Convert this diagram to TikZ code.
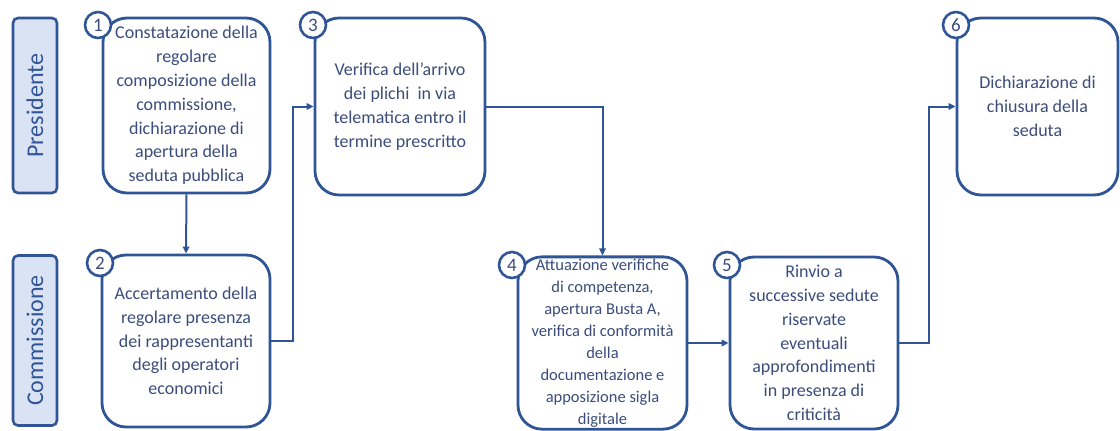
\documentclass[tikz,border=0pt]{standalone}
\usepackage{fontspec}
\setmainfont{Carlito}
\usetikzlibrary{arrows.meta}
\definecolor{laneblue}{HTML}{2F5597}
\definecolor{lanefill}{HTML}{DAE3F3}
\definecolor{steptext}{HTML}{3C4D7C}
\tikzset{>/.tip={Triangle[length=7pt,width=6.5pt]}}

\begin{document}
\begin{tikzpicture}[x=1pt,y=-1pt,
  lane/.style={draw=laneblue,fill=lanefill,line width=2.6pt,rounded corners=5pt,
    minimum width=44pt,text=laneblue,font=\fontsize{24}{26}\selectfont},
  stepbox/.style={draw=laneblue,fill=white,line width=2.8pt,rounded corners=24pt,
    align=center,inner sep=2pt,text=steptext,font=\fontsize{18}{23.8}\selectfont},
  stepnum/.style={circle,draw=laneblue,fill=white,line width=2.6pt,minimum size=26pt,
    inner sep=0pt,text=steptext,font=\fontsize{19}{20}\selectfont},
  flow/.style={draw=laneblue,line width=2pt,->}]
\useasboundingbox (0,0) rectangle (1120,431);

% swim lanes
\node[lane,minimum height=175pt] (pres) at (35,105.5) {\rotatebox{90}{Presidente}};
\node[lane,minimum height=170pt] (comm) at (35,340.5) {\rotatebox{90}{Commissione}};

% steps
\node[stepbox,minimum width=167pt,minimum height=175pt] (b1) at (186.5,105.5)
  {Constatazione della\\regolare\\composizione della\\commissione,\\dichiarazione di\\apertura della\\seduta pubblica};
\node[stepbox,minimum width=168pt,minimum height=172pt] (b2) at (186,341)
  {Accertamento della\\regolare presenza\\dei rappresentanti\\degli operatori\\economici};
\node[stepbox,minimum width=170pt,minimum height=177pt] (b3) at (400,106.5)
  {Verifica dell'arrivo\\dei plichi\ \ in via\\telematica entro il\\termine prescritto};
\node[stepbox,minimum width=169pt,minimum height=172pt,font=\fontsize{16.5}{22}\selectfont] (b4) at (602.5,343)
  {Attuazione verifiche\\di competenza,\\apertura Busta A,\\verifica di conformità\\della\\documentazione e\\apposizione sigla\\digitale};
\node[stepbox,minimum width=168pt,minimum height=172pt] (b5) at (814,343)
  {Rinvio a\\successive sedute\\riservate\\eventuali\\approfondimenti\\in presenza di\\criticità};
\node[stepbox,minimum width=161pt,minimum height=177pt] (b6) at (1037.5,106.5)
  {Dichiarazione di\\chiusura della\\seduta};

% step numbers
\node[stepnum] (c1) at (98,25) {1};
\node[stepnum] (c2) at (100,263) {2};
\node[stepnum] (c3) at (313,25) {3};
\node[stepnum] (c4) at (512,265) {4};
\node[stepnum] (c5) at (727,265) {5};
\node[stepnum] (c6) at (956,25) {6};

% connectors
\draw[flow] (b1.south) -- (b2.north);
\draw[flow] (b2.east) -- ++(22,0) |- (b3.west);
\draw[flow] (b3.east) -| (b4.north);
\draw[flow] (b4.east) -- (b5.west);
\draw[flow] (b5.east) -- ++(30,0) |- (b6.west);
\end{tikzpicture}
\end{document}
